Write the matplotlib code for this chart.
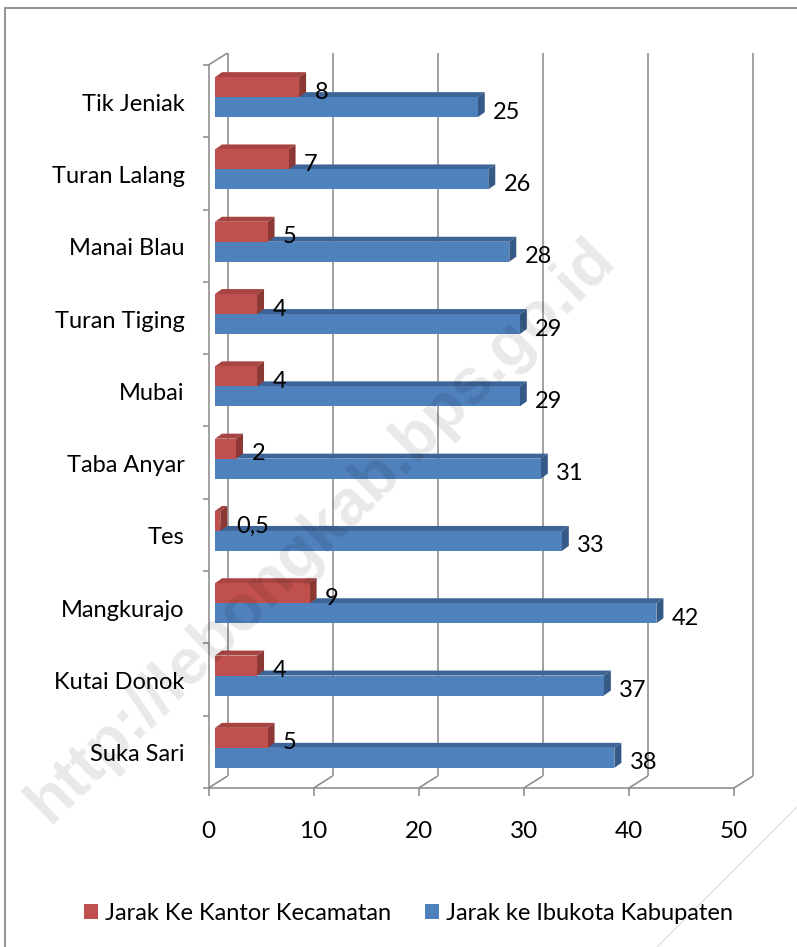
import matplotlib
matplotlib.use("Agg")
import matplotlib.pyplot as plt
from matplotlib.patches import Polygon, Patch, Rectangle
from matplotlib.lines import Line2D

# ---------------- data ----------------
categories = ["Tik Jeniak", "Turan Lalang", "Manai Blau", "Turan Tiging", "Mubai",
              "Taba Anyar", "Tes", "Mangkurajo", "Kutai Donok", "Suka Sari"]
kantor_kecamatan = [8, 7, 5, 4, 4, 2, 0.5, 9, 4, 5]
ibukota_kabupaten = [25, 26, 28, 29, 29, 31, 33, 42, 37, 38]
x_ticks = [0, 10, 20, 30, 40, 50]
series_names = ["Jarak Ke Kantor Kecamatan", "Jarak ke Ibukota Kabupaten"]

# ---------------- style ----------------
FONT = "Lato"
RED = ("#C0504D", "#A84542", "#8C3936")   # front, top, side
BLUE = ("#4F81BD", "#3E6597", "#365A87")
GRID = "#8C8C8C"
FS_CAT, FS_VAL, FS_TICK, FS_LEG = 17, 17, 17.5, 17

FW, FH = 797, 947
fig = plt.figure(figsize=(FW / 100, FH / 100), dpi=100)
fig.patch.set_facecolor("white")

x0, x1 = 208.5, 734.0     # front plane, pixels
ytop, ybot = 65.0, 788.0
n = len(categories)
ax = fig.add_axes([x0 / FW, 1 - ybot / FH, (x1 - x0) / FW, (ybot - ytop) / FH])
ax.set_xlim(x_ticks[0], x_ticks[-1])
ax.set_ylim(0, n)
ax.axis("off")

px_x = (x1 - x0) / (x_ticks[-1] - x_ticks[0])
px_y = (ybot - ytop) / n
def dx(p):
    return p / px_x
def dy(p):
    return p / px_y

# back-wall offset
bx, by = dx(19), dy(12)
lw = 1.15

def line(xs, ys, **kw):
    ax.add_line(Line2D(xs, ys, color=GRID, lw=lw, clip_on=False,
                       solid_capstyle="butt", zorder=1, **kw))

for v in x_ticks:
    line([v, v + bx], [0, by])                 # floor diagonal
    line([v + bx, v + bx], [by, n + by])       # back gridline
    line([v, v], [0, -dy(8)])                  # tick
line([x_ticks[0], x_ticks[-1]], [0, 0])        # front bottom axis
line([0, 0], [0, n])                           # front left axis
line([0, bx], [n, n + by])                     # top-left diagonal
for k in range(n + 1):
    line([-dx(6), 0], [k, k])

# ---------------- bars ----------------
ox, oy = dx(6.5), dy(4)
h = dy(20)
ddx, ddy = dx(7), dy(5)

def bar3d(yb, v, cols, z):
    ax.barh(yb + h / 2, v, height=h, left=ox, color=cols[0], zorder=z,
            linewidth=0)
    top = yb + h
    ax.add_patch(Polygon([(ox, top), (ox + v, top), (ox + v + ddx, top + ddy),
                          (ox + ddx, top + ddy)], closed=True, facecolor=cols[1],
                         edgecolor="none", zorder=z - 0.5, clip_on=False))
    ax.add_patch(Polygon([(ox + v, yb), (ox + v, top), (ox + v + ddx, top + ddy),
                          (ox + v + ddx, yb + ddy)], closed=True, facecolor=cols[2],
                         edgecolor="none", zorder=z - 0.5, clip_on=False))

def fmt(v):
    return f"{v:g}".replace(".", ",")

for i, cat in enumerate(categories):
    c = n - 1 - i + 0.5
    kb = ibukota_kabupaten[i]
    kk = kantor_kecamatan[i]
    bar3d(c + oy - h, kb, BLUE, 3)
    bar3d(c + oy, kk, RED, 5)
    ax.annotate(fmt(kb), xy=(kb, c - h / 2), xytext=(22, -1),
                textcoords="offset pixels", ha="left", va="center",
                fontsize=FS_VAL, family=FONT, color="black", annotation_clip=False, zorder=8)
    ax.annotate(fmt(kk), xy=(kk, c + h / 2), xytext=(22, -1),
                textcoords="offset pixels", ha="left", va="center",
                fontsize=FS_VAL, family=FONT, color="black", annotation_clip=False, zorder=8)
    ax.annotate(cat, xy=(0, c), xytext=(-24, -3), textcoords="offset pixels",
                ha="right", va="center", fontsize=FS_CAT, family=FONT,
                annotation_clip=False)

for v in x_ticks:
    ax.annotate(str(v), xy=(v, 0), xytext=(0, -43), textcoords="offset pixels",
                ha="center", va="center", fontsize=FS_TICK, family=FONT,
                annotation_clip=False)

# ---------------- legend ----------------
handles = [Patch(facecolor=RED[0], edgecolor="none"),
           Patch(facecolor=BLUE[0], edgecolor="none")]
fig.legend(handles, series_names, loc="center", bbox_to_anchor=(408.5 / FW, 1 - 913 / FH),
           ncol=2, frameon=False, handlelength=0.62, handleheight=0.62,
           handletextpad=0.3, columnspacing=1.4, prop={"family": FONT, "size": FS_LEG})

# ---------------- chart border & page artefacts ----------------
fig.patches.append(Rectangle((5 / FW, -0.1), 1.2, 1 - 8 / FH + 0.1, transform=fig.transFigure,
                             fill=False, edgecolor="#8A8A8A", lw=1.3, zorder=0))
fig.lines.append(Line2D([657 / FW, 1.0], [0.0, 1 - 807 / FH], transform=fig.transFigure,
                        color="#E2E2E2", lw=1.0))

wm = fig.text(321 / FW, 1 - 531 / FH, "http://lebongkab.bps.go.id", fontsize=34,
              weight="bold", family="Liberation Sans", color="black", alpha=0.09,
              ha="center", va="center", zorder=20)
r = fig.canvas.get_renderer()
w = wm.get_window_extent(r).width
wm.set_fontsize(34 * 800 / w)
wm.set_rotation(44.8)
wm.set_rotation_mode("anchor")

fig.savefig("out.png", dpi=100, facecolor="white")
